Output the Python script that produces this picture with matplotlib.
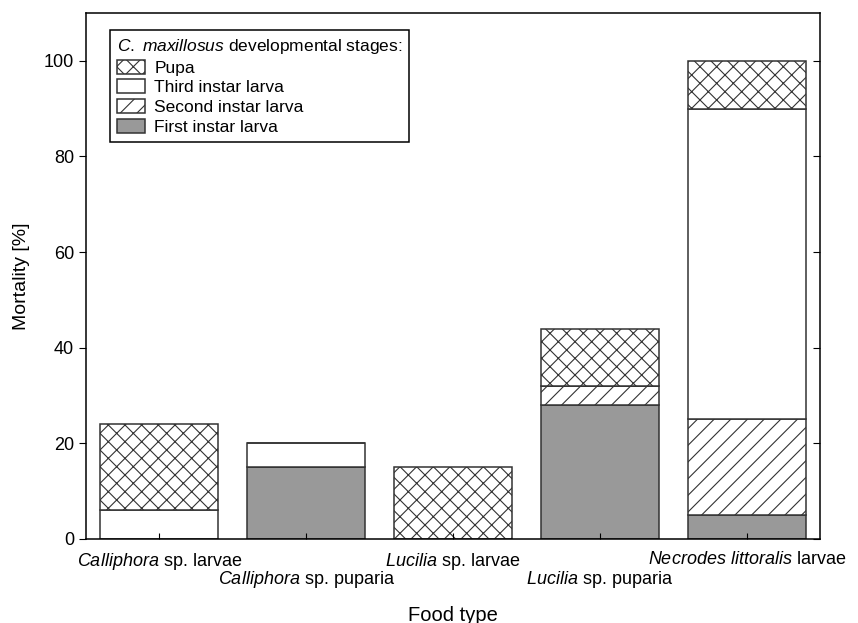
import numpy as np
import matplotlib
matplotlib.use('Agg')
import matplotlib.pyplot as plt
from matplotlib.lines import TICKLEFT

# Mortality of C. maxillosus by developmental stage and food type
food = [r'$\it{Calliphora}$ sp. larvae',
        r'$\it{Calliphora}$ sp. puparia',
        r'$\it{Lucilia}$ sp. larvae',
        r'$\it{Lucilia}$ sp. puparia',
        r'$\it{Necrodes\ littoralis}$ larvae']
first_instar = [0, 15, 0, 28, 5]
second_instar = [0, 0, 0, 4, 20]
third_instar = [6, 5, 0, 0, 65]
pupa = [18, 0, 15, 12, 10]
yticks = [0, 20, 40, 60, 80, 100]

plt.rcParams['font.family'] = ['Liberation Sans', 'DejaVu Sans']
plt.rcParams['mathtext.fontset'] = 'custom'
plt.rcParams['mathtext.rm'] = 'Liberation Sans'
plt.rcParams['mathtext.it'] = 'Liberation Sans:italic'
plt.rcParams['hatch.linewidth'] = 0.8

fig = plt.figure(figsize=(8.58, 6.23), dpi=100)
ax = fig.add_axes([0.1, 0.135, 0.856, 0.844])

x = np.arange(len(food))
w = 0.8
edge = '#333333'
kw = dict(width=w, edgecolor=edge, linewidth=1.1)

b1 = ax.bar(x, first_instar, color='#999999', **kw)
bottom = np.array(first_instar, dtype=float)
b2 = ax.bar(x, second_instar, bottom=bottom, color='white', hatch='//', **kw)
bottom += second_instar
b3 = ax.bar(x, third_instar, bottom=bottom, color='white', **kw)
bottom += third_instar
b4 = ax.bar(x, pupa, bottom=bottom, color='white', hatch='xx', **kw)

ax.set_xlim(-0.5, 4.5)
ax.set_ylim(0, 110)
ax.set_yticks(yticks)
ax.set_xticks(x)
ax.set_xticklabels(food, fontsize=13)
ax.tick_params(axis='y', labelsize=13, direction='out', length=5, right=True)
ax.tick_params(axis='x', direction='in', length=4, pad=9)
# right-hand ticks point into the plot
for t in ax.yaxis.get_major_ticks():
    t.tick2line.set_marker(TICKLEFT)
# stagger every second label onto a lower row
for i, t in enumerate(ax.xaxis.get_major_ticks()):
    if i % 2 == 1:
        t.set_pad(22)

for s in ax.spines.values():
    s.set_linewidth(1.1)

ax.set_ylabel('Mortality [%]', fontsize=14, labelpad=10)
ax.set_xlabel('Food type', fontsize=14.5, labelpad=11)

leg = ax.legend([b4, b3, b2, b1],
                ['Pupa', 'Third instar larva', 'Second instar larva', 'First instar larva'],
                title=r'$\it{C.\ maxillosus}$ developmental stages:',
                loc='upper left', bbox_to_anchor=(0.033, 0.968), borderaxespad=0,
                fontsize=12.5, title_fontsize=12.5, alignment='left',
                fancybox=False, framealpha=1, edgecolor='black',
                handlelength=1.6, handleheight=0.85, handletextpad=0.55,
                labelspacing=0.22, borderpad=0.4)
leg.get_frame().set_linewidth(1.1)

fig.savefig('out.png', dpi=100)
